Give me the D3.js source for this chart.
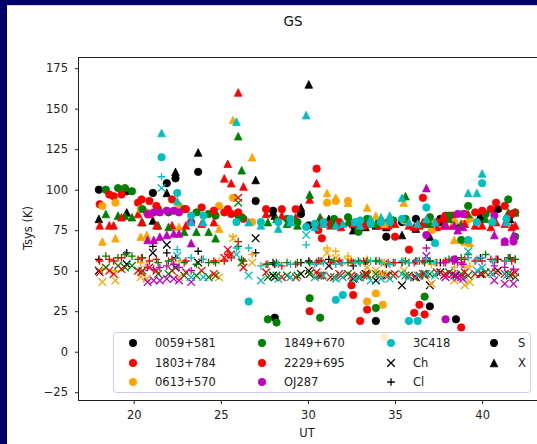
<!DOCTYPE html>
<html>
<head>
  <meta charset="utf-8">
  <style type="text/css">
    body { margin: 0; background: #fff; }
    svg { display: block; font-family: "DejaVu Sans", sans-serif; }
  </style>
  <script src="https://d3js.org/d3.v7.min.js"></script>
</head>
<body>
<div id="chart"></div>
<script type="text/javascript">
  // sources in legend order, with the matplotlib colours
  var sources = ["0059+581", "1803+784", "0613+570", "1849+670", "2229+695", "OJ287", "3C418"];
  var sourceColors = ["#000000", "#ff0000", "#ffa500", "#008000", "#ff0000", "#bf00bf", "#00bfbf"];

  // one row per scan: [UT, S, X, Ch, Cl]
  var scans0059 = [
    [18.0, 100, 82, 50, 57], [19.6, 99, 86, 54, 61], [21.1, 98, 81, 61, 65], [21.9, 104, 98, 66, 61],
    [22.4, 107, 111, 52, 58], [23.7, 111, 123, 55, 62], [27.0, 93, 106, 70, 61], [28.0, 87, 86, 47, 55],
    [28.1, 21, 84, 46, 54], [29.6, 85, 89, 48, 55], [30.05, 78, 165, 50, 56], [31.2, 80, 82, 53, 57],
    [32.6, 78, 75, 45, 53], [33.3, 80, 77, 48, 55], [33.9, 19, 78, 44, 56], [34.5, 71, 77, 47, 54],
    [35.4, 80, 72, 41, 55], [36.2, 82, 76, 46, 56], [37.0, 28, 71, 41, 56], [37.6, 82, 80, 49, 55],
    [38.5, 20, 79, 47, 57], [39.9, 82, 84, 48, 58], [40.9, 88, 89, 50, 57], [41.6, 84, 82, 47, 58]
  ];
  var scans1803 = [
    [18.05, 91, 78, 49, 56], [18.85, 96, 78, 48, 56], [20.25, 92, 85, 50, 57], [20.9, 93, 85, 52, 56],
    [22.2, 94, 78, 50, 57], [23.9, 89, 79, 50, 57], [25.4, 88, 116, 63, 60], [25.6, 85, 104, 60, 58],
    [26.3, 82, 102, 52, 56], [27.6, 88, 85, 49, 54], [29.3, 88, 83, 46, 54], [30.1, 25, 94, 48, 55],
    [30.6, 75, 79, 47, 56], [31.3, 79, 78, 46, 55], [31.9, 78, 77, 47, 55], [32.5, 41, 80, 47, 56],
    [33.0, 19, 78, 46, 55], [33.4, 26, 79, 48, 56], [34.1, 80, 78, 48, 56], [34.6, 80, 78, 47, 55],
    [35.8, 63, 78, 47, 55], [36.1, 24, 77, 46, 55], [36.7, 23, 79, 47, 56], [37.4, 80, 77, 49, 55],
    [37.9, 84, 79, 48, 56], [38.3, 84, 78, 48, 56], [38.8, 15, 79, 46, 55], [39.6, 86, 78, 48, 56],
    [40.5, 88, 77, 49, 57], [41.3, 90, 79, 48, 56], [41.9, 86, 78, 49, 57]
  ];
  var scans0613 = [
    [18.2, 90, 68, 43, 51], [18.95, 92, 70, 44, 50], [20.4, 88, 71, 46, 55], [20.75, 86, 72, 45, 53],
    [22.6, 90, 77, 46, 56], [24.9, 90, 76, 46, 56], [25.7, 95, 143, 70, 71], [26.8, 80, 120, 55, 60],
    [31.1, 92, 98, 61, 64], [31.6, 93, 95, 58, 62], [32.3, 93, 92, 56, 59], [33.4, 31, 89, 52, 57],
    [33.9, 36, 84, 50, 56], [34.3, 29, 80, 48, 55], [34.4, 9, 79, 47, 55], [35.5, 81, 92, 50, 56],
    [37.1, 75, 80, 42, 54], [38.4, 80, 69, 44, 52], [39.0, 79, 68, 41, 52], [39.3, 82, 67, 43, 53]
  ];
  var scans1849 = [
    [18.4, 100, 85, 52, 59], [19.1, 101, 84, 53, 58], [19.5, 101, 84, 52, 60], [19.9, 99, 83, 53, 59],
    [20.5, 88, 80, 50, 58], [21.4, 88, 78, 48, 55], [22.0, 86, 77, 48, 56], [22.9, 88, 74, 47, 55],
    [23.6, 86, 74, 47, 54], [24.3, 85, 74, 46, 55], [24.7, 84, 70, 47, 55], [26.0, 84, 133, 92, 65],
    [26.2, 83, 112, 55, 57], [27.7, 20, 80, 46, 54], [28.2, 18, 82, 47, 55], [28.8, 82, 79, 47, 55],
    [29.4, 80, 78, 47, 55], [30.1, 33, 97, 48, 55], [30.7, 21, 83, 47, 56], [31.5, 82, 79, 46, 56],
    [32.3, 83, 80, 48, 55], [32.9, 74, 78, 46, 56], [33.4, 82, 80, 47, 56], [33.9, 27, 79, 48, 56],
    [34.9, 81, 80, 47, 55], [35.6, 82, 96, 47, 56], [36.7, 34, 80, 48, 55], [37.0, 83, 79, 48, 56],
    [38.1, 84, 82, 49, 57], [38.8, 69, 78, 48, 58], [39.2, 90, 85, 47, 60], [40.2, 85, 82, 49, 60],
    [41.5, 94, 86, 48, 58], [41.9, 71, 86, 46, 57]
  ];
  var scans2229 = [
    [18.6, 97, 78, 50, 57], [19.3, 97, 83, 51, 58], [20.45, 94, 80, 49, 58], [21.3, 90, 78, 50, 57],
    [23.0, 88, 78, 49, 56], [24.6, 87, 80, 48, 56], [25.2, 86, 107, 58, 56], [26.0, 86, 160, 95, 68],
    [28.5, 88, 84, 46, 53], [30.5, 113, 104, 49, 55], [30.8, 70, 81, 47, 56], [31.8, 80, 80, 48, 56],
    [32.6, 35, 79, 46, 55], [33.2, 78, 78, 47, 56], [35.0, 71, 79, 48, 55], [36.4, 29, 78, 47, 56],
    [36.6, 95, 80, 48, 56], [37.8, 82, 78, 47, 55], [39.0, 85, 79, 49, 57], [40.0, 87, 78, 48, 56],
    [40.8, 92, 80, 49, 57], [41.7, 85, 77, 48, 56]
  ];
  var scansOJ287 = [
    [20.8, 85, 69, 43, 52], [21.15, 86, 69, 44, 51], [21.5, 86, 71, 44, 52], [21.9, 87, 72, 45, 53],
    [22.3, 87, 73, 45, 54], [22.6, 86, 73, 44, 52], [23.3, 80, 67, 43, 50], [36.8, 72, 101, 59, 64],
    [37.9, 20, 78, 46, 55], [38.4, 57, 78, 47, 56], [38.6, 85, 75, 46, 55], [38.9, 85, 77, 45, 54],
    [40.7, 84, 72, 44, 53], [41.3, 68, 68, 42, 52], [41.8, 68, 72, 42, 51]
  ];
  var scans3C418 = [
    [21.6, 120, 135, 101, 108], [22.5, 98, 93, 59, 63], [23.3, 84, 80, 46, 58], [24.0, 84, 80, 46, 57],
    [25.9, 80, 142, 60, 64], [26.6, 31, 80, 47, 64], [27.3, 80, 78, 44, 53], [28.3, 80, 76, 45, 54],
    [29.0, 82, 80, 46, 54], [29.9, 77, 146, 72, 66], [30.4, 79, 77, 46, 54], [30.9, 80, 79, 47, 55],
    [31.6, 32, 78, 45, 54], [32.0, 35, 79, 46, 55], [32.7, 80, 80, 45, 55], [33.0, 81, 78, 46, 55],
    [33.6, 79, 82, 44, 56], [34.2, 80, 83, 45, 55], [34.7, 80, 84, 45, 54], [35.4, 82, 95, 48, 56],
    [35.8, 19, 80, 46, 55], [36.3, 19, 79, 47, 56], [36.8, 89, 82, 48, 57], [37.3, 67, 80, 47, 55],
    [39.2, 69, 98, 62, 58], [39.7, 80, 98, 50, 57], [40.0, 104, 110, 52, 58], [40.6, 80, 81, 48, 56],
    [41.4, 82, 80, 47, 56]
  ];
  var scansBySource = [scans0059, scans1803, scans0613, scans1849, scans2229, scansOJ287, scans3C418];

  var bands = ["S", "X", "Ch", "Cl"];
  var bandMarkers = ["circle", "triangle", "x", "plus"];
  var xTicks = [20, 25, 30, 35, 40];
  var yTicks = [-25, 0, 25, 50, 75, 100, 125, 150, 175];

  var W = 537, H = 444;
  var axL = 79, axR = 537, axT = 57, axB = 400;

  var svg = d3.select("#chart").append("svg")
      .attr("width", W).attr("height", H);

  // window frame
  svg.append("rect").attr("x", 0).attr("y", 0).attr("width", W).attr("height", 5).attr("fill", "#000068");
  svg.append("rect").attr("x", 0).attr("y", 0).attr("width", 7).attr("height", H).attr("fill", "#000068");
  svg.append("rect").attr("x", 7).attr("y", 5).attr("width", W - 7).attr("height", 1).attr("fill", "#d4d4ee");

  var x = d3.scaleLinear().domain([16.86, 43.15]).range([axL, axR]);
  var y = d3.scaleLinear().domain([-29.8, 181.9]).range([axB, axT]);

  function markerPath(kind) {
    var h = 3.8;
    if (kind === "triangle") return "M0," + (-h) + "L" + h + "," + h + "L" + (-h) + "," + h + "Z";
    if (kind === "x") return "M" + (-h) + "," + (-h) + "L" + h + "," + h + "M" + (-h) + "," + h + "L" + h + "," + (-h);
    return "M" + (-h) + ",0L" + h + ",0M0," + (-h) + "L0," + h;
  }

  function drawMarker(g, kind, color, px, py) {
    if (kind === "circle") {
      g.append("circle").attr("cx", px).attr("cy", py).attr("r", 3.7)
        .attr("fill", color).attr("stroke", color).attr("stroke-width", 0.8);
    } else if (kind === "triangle") {
      g.append("path").attr("d", markerPath(kind)).attr("transform", "translate(" + px + "," + py + ")")
        .attr("fill", color).attr("stroke", color).attr("stroke-width", 0.8);
    } else {
      g.append("path").attr("d", markerPath(kind)).attr("transform", "translate(" + px + "," + py + ")")
        .attr("fill", "none").attr("stroke", color).attr("stroke-width", 1.3);
    }
  }

  svg.append("defs").append("clipPath").attr("id", "clip")
    .append("rect").attr("x", axL).attr("y", axT).attr("width", axR - axL).attr("height", axB - axT);

  var plot = svg.append("g").attr("clip-path", "url(#clip)");
  scansBySource.forEach(function(rows, si) {
    var g = plot.append("g").attr("class", "src-" + si);
    bands.forEach(function(b, bi) {
      rows.forEach(function(r) {
        var v = r[bi + 1];
        if (v == null) return;
        drawMarker(g, bandMarkers[bi], sourceColors[si], x(r[0]), y(v));
      });
    });
  });

  // axes
  var xAxis = svg.append("g").attr("transform", "translate(0," + axB + ")")
    .call(d3.axisBottom(x).tickValues(xTicks).tickSize(4).tickPadding(7).tickSizeOuter(0));
  var yAxis = svg.append("g").attr("transform", "translate(" + axL + ",0)")
    .call(d3.axisLeft(y).tickValues(yTicks).tickSize(4).tickPadding(7).tickSizeOuter(0));
  [xAxis, yAxis].forEach(function(a) {
    a.select(".domain").remove();
    a.selectAll("text").attr("font-size", "11.5px").attr("fill", "#222").attr("font-family", "DejaVu Sans");
    a.selectAll("line").attr("stroke", "#222");
  });

  // spines (right spine sits just off the picture)
  svg.append("line").attr("x1", axL).attr("x2", W).attr("y1", axT + 0.5).attr("y2", axT + 0.5).attr("stroke", "#222");
  svg.append("line").attr("x1", axL).attr("x2", W).attr("y1", axB + 0.5).attr("y2", axB + 0.5).attr("stroke", "#222");
  svg.append("line").attr("x1", axL - 0.5).attr("x2", axL - 0.5).attr("y1", axT).attr("y2", axB + 1).attr("stroke", "#222");

  svg.append("text").attr("x", 293).attr("y", 25.5).attr("text-anchor", "middle")
    .attr("font-size", "13.5px").attr("fill", "#111").text("GS");
  svg.append("text").attr("x", 307).attr("y", 437).attr("text-anchor", "middle")
    .attr("font-size", "11.5px").attr("fill", "#222").text("UT");
  svg.append("text").attr("transform", "translate(32,228) rotate(-90)").attr("text-anchor", "middle")
    .attr("font-size", "11.5px").attr("fill", "#222").text("Tsys (K)");

  // legend
  var legendItems = sources.map(function(s, i) { return { label: s, kind: "circle", color: sourceColors[i] }; })
    .concat([{ label: "Ch", kind: "x", color: "#000" }, { label: "Cl", kind: "plus", color: "#000" },
             { label: "S", kind: "circle", color: "#000" }, { label: "X", kind: "triangle", color: "#000" }]);
  var lg = svg.append("g");
  lg.append("rect").attr("x", 113.5).attr("y", 332.5).attr("width", 417).attr("height", 60).attr("rx", 3)
    .attr("fill", "#fff").attr("fill-opacity", 0.8).attr("stroke", "#ccccf2");
  var colMarkerX = [133, 262, 391, 494];
  var colTextX = [155, 284, 413, 518];
  var rowY = [343, 363, 382];
  legendItems.forEach(function(it, i) {
    var c = Math.floor(i / 3), r = i % 3;
    drawMarker(lg, it.kind, it.color, colMarkerX[c], rowY[r]);
    lg.append("text").attr("x", colTextX[c]).attr("y", rowY[r] + 4.2)
      .attr("font-size", "11.5px").attr("fill", "#222").text(it.label);
  });
</script>
</body>
</html>
